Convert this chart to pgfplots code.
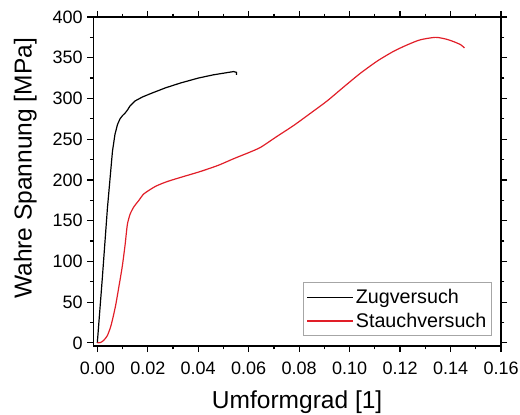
\documentclass[border=0pt]{standalone}
\usepackage{fontspec}
\setmainfont{Liberation Sans}
\usepackage{pgfplots}
\pgfplotsset{compat=1.18}
\definecolor{stauch}{RGB}{225,30,40}

\begin{document}
\begin{tikzpicture}
\begin{axis}[
  scale only axis,
  width=306pt, height=247pt,
  xmin=-0.0016, xmax=0.16, ymin=-4, ymax=400,
  xtick={0,0.02,...,0.16}, ytick={0,50,...,400},
  minor x tick num=1, minor y tick num=1,
  xticklabel style={yshift=-4pt, /pgf/number format/fixed, /pgf/number format/fixed zerofill, /pgf/number format/precision=2},
  /pgf/number format/assume math mode=true,
  tick align=outside, tick pos=both,
  major tick length=4.5pt, minor tick length=2.5pt,
  every tick/.style={black, line width=0.9pt},
  axis line style={line width=1.1pt},
  tick label style={font=\fontsize{13.5}{15}\selectfont},
  label style={font=\fontsize{18.4}{20}\selectfont},
  xlabel={Umformgrad [1]}, ylabel={Wahre Spannung [MPa]},
  xlabel style={at={(axis description cs:0.5,-0.17)}, anchor=center},
  ylabel style={at={(axis description cs:-0.1667,0.54)}, anchor=center},
  legend style={at={(0.978,0.03)}, anchor=south east, draw=gray!70, line width=0.6pt,
    font=\fontsize{14.8}{17}\selectfont, inner xsep=2pt, inner ysep=3pt, row sep=1.5pt,
    cells={anchor=west}},
  legend image code/.code={\draw[#1, line width=1pt] (0pt,0pt) -- (34pt,0pt);},
]
\addplot[black, line width=0.9pt] coordinates {
  (0,0) (0.002,80) (0.004,165) (0.006,235) (0.007,256) (0.008,268) (0.009,275)
  (0.010,279) (0.011,282) (0.012,286) (0.013,291) (0.015,297) (0.018,302)
  (0.022,307) (0.027,313) (0.033,319) (0.040,325) (0.046,329) (0.050,331)
  (0.054,333) (0.0552,332) (0.0552,329)
};
\addlegendentry{Zugversuch}
\addplot[stauch, line width=0.9pt, smooth, tension=0.4] coordinates {
  (0,0) (0.0013,0.5) (0.0025,3) (0.004,9) (0.0055,22) (0.0072,45) (0.0085,68)
  (0.0099,94) (0.0110,120) (0.0119,145) (0.0130,158) (0.0145,167) (0.0165,175)
  (0.0185,183) (0.0230,192) (0.0277,198) (0.034,204) (0.041,210.5) (0.048,218)
  (0.054,226) (0.0600,233.5) (0.0647,240) (0.0710,253) (0.0779,267) (0.0850,283)
  (0.0911,297) (0.0980,315) (0.1043,331) (0.1110,346) (0.1175,358) (0.1230,366)
  (0.1280,372) (0.1340,375) (0.1380,373) (0.1410,370) (0.1440,366) (0.1455,362)
};
\addlegendentry{Stauchversuch}
\end{axis}
\pgfresetboundingbox
\path ([xshift=-70pt, yshift=-51pt]current axis.south west)
  rectangle ([xshift=14.25pt, yshift=12.75pt]current axis.north east);
\end{tikzpicture}
\end{document}
